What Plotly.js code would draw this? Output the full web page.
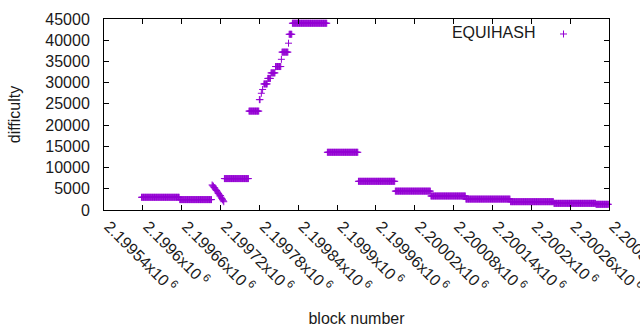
<!DOCTYPE html>
<html>
<head>
<meta charset="utf-8">
<script src="https://cdn.plot.ly/plotly-3.0.1.min.js"></script>
<style>
html,body{margin:0;padding:0;background:#fff;}
#chart{width:640px;height:330px;}
</style>
</head>
<body>
<div id="chart"></div>
<script>
// Difficulty runs: first block, last block, difficulty
const runStart = [2199598, 2199657,
  2199707, 2199708, 2199709, 2199710, 2199711, 2199712, 2199713, 2199714, 2199715, 2199716,
  2199717, 2199718, 2199719, 2199720, 2199721, 2199722, 2199723, 2199724, 2199725,
  2199726, 2199764, 2199780, 2199783, 2199785, 2199787, 2199793, 2199798, 2199805, 2199814,
  2199815, 2199825, 2199826, 2199831, 2199885, 2199933, 2199990, 2200045, 2200099, 2200168,
  2200235, 2200300];
const runEnd = [2199656, 2199706,
  2199707, 2199708, 2199709, 2199710, 2199711, 2199712, 2199713, 2199714, 2199715, 2199716,
  2199717, 2199718, 2199719, 2199720, 2199721, 2199722, 2199723, 2199724, 2199725,
  2199763, 2199779, 2199781, 2199783, 2199785, 2199792, 2199797, 2199804, 2199813, 2199814,
  2199824, 2199825, 2199830, 2199884, 2199932, 2199989, 2200044, 2200098, 2200167, 2200234,
  2200299, 2200319];
const runDiff = [3000, 2450,
  5900, 5700, 5600, 5300, 5200, 4900, 4700, 4600, 4300, 4000,
  3900, 3600, 3300, 3400, 3000, 2700, 2500, 2200, 1950,
  7400, 23300, 26000, 27500, 28400, 29700, 31000, 32300, 33800, 35500,
  37200, 39300, 41400, 44000, 13600, 6760, 4450, 3300, 2570, 1960,
  1570, 1340];

const xTickVals = [2199540, 2199600, 2199660, 2199720, 2199780, 2199840, 2199900,
  2199960, 2200020, 2200080, 2200140, 2200200, 2200260, 2200320];
const xTickLabels = ['2.19954', '2.1996', '2.19966', '2.19972', '2.19978', '2.19984', '2.1999',
  '2.19996', '2.20002', '2.20008', '2.20014', '2.2002', '2.20026', '2.20032'];
const yTickVals = [0, 5000, 10000, 15000, 20000, 25000, 30000, 35000, 40000, 45000];

const blocks = [], diffs = [];
for (let i = 0; i < runStart.length; i++) {
  for (let b = runStart[i]; b <= runEnd[i]; b++) { blocks.push(b); diffs.push(runDiff[i]); }
}

const purple = '#9400d3';
const font = {family: 'Liberation Sans, Arial, sans-serif', size: 16, color: '#1a1a1a'};

const trace = {
  x: blocks, y: diffs, type: 'scatter', mode: 'markers', name: ' ',
  cliponaxis: false,
  marker: {symbol: 'cross-thin', size: 5, color: purple, line: {color: purple, width: 1}}
};

const axisCommon = {
  showgrid: false, zeroline: false, showline: true, linecolor: '#000', linewidth: 1,
  mirror: 'ticks', ticks: 'inside', ticklen: 5, tickcolor: '#000', tickwidth: 1,
  tickfont: font
};

const layout = {
  width: 640, height: 330,
  margin: {l: 104, r: 31, t: 19, b: 120},
  paper_bgcolor: '#fff', plot_bgcolor: '#fff',
  font: font,
  showlegend: true,
  legend: {
    x: 0.685, y: 1.01, xanchor: 'left', yanchor: 'top',
    bgcolor: 'rgba(0,0,0,0)', borderwidth: 0,
    title: {text: 'EQUIHASH', side: 'left', font: font},
    font: font
  },
  xaxis: Object.assign({}, axisCommon, {
    range: [2199540, 2200320],
    tickmode: 'array', tickvals: xTickVals,
    ticktext: xTickLabels.map(s => s + 'x10<sup> 6</sup>'),
    tickangle: 45,
    ticklabelshift: 5,
    ticklabeloverflow: 'allow',
    title: {text: 'block number', font: font, standoff: 18}
  }),
  yaxis: Object.assign({}, axisCommon, {
    range: [0, 45000],
    tickmode: 'array', tickvals: yTickVals, tickformat: 'd',
    ticklabelstandoff: 10,
    title: {text: 'difficulty', font: font, standoff: 20}
  })
};

Plotly.newPlot('chart', [trace], layout, {displayModeBar: false, staticPlot: true});
</script>
</body>
</html>
